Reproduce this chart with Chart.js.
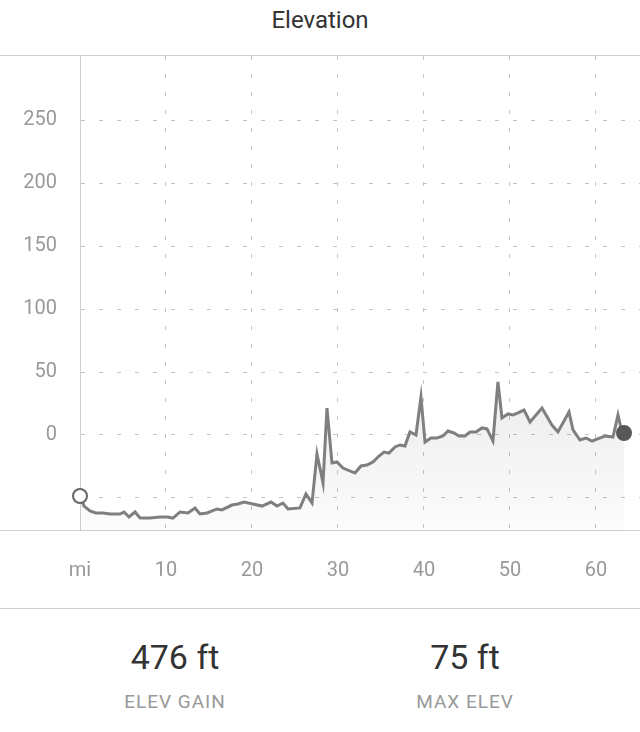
<!DOCTYPE html>
<html><head><meta charset="utf-8">
<script src="https://cdn.jsdelivr.net/npm/chart.js@4.4.0/dist/chart.umd.min.js"></script>
<style>
html,body{margin:0;padding:0;background:#fff;width:640px;height:732px;overflow:hidden;font-family:Roboto,"Noto Sans",sans-serif;}
.abs{position:absolute;}
#title{left:0;width:640px;top:0;height:40px;line-height:40px;text-align:center;font-size:24px;color:#333;}
.hline{left:0;width:640px;height:1px;background:#cfcfcf;z-index:2;}
#wrap{left:0;top:56px;width:640px;height:552px;}
.val{font-size:34px;color:#333;text-align:center;width:290px;height:40px;line-height:40px;top:637px;}
.lab{font-size:19px;color:#999;text-align:center;width:290px;letter-spacing:1px;height:24px;line-height:24px;top:690px;}
</style></head><body>
<div id="title" class="abs">Elevation</div>
<div class="abs hline" style="top:55px"></div>
<div id="wrap" class="abs"><canvas id="c"></canvas></div>
<div class="abs hline" style="top:530px"></div>
<div class="abs hline" style="top:608px"></div>
<div class="abs val" style="left:30px">476 ft</div>
<div class="abs lab" style="left:30px">ELEV GAIN</div>
<div class="abs val" style="left:320px">75 ft</div>
<div class="abs lab" style="left:320px">MAX ELEV</div>
<script>
const distanceMi = [0.0,0.47,1.16,1.86,2.67,3.49,4.65,5.12,5.70,6.40,6.98,8.14,9.30,10.12,10.81,11.63,12.56,13.37,13.95,14.77,15.93,16.51,17.67,18.37,19.07,20.12,21.16,22.21,22.91,23.60,24.19,25.58,26.28,26.98,27.56,28.26,28.72,29.30,29.88,30.58,31.98,32.67,33.37,34.07,34.77,35.35,35.93,36.63,37.21,37.79,38.37,39.07,39.65,40.12,40.81,41.51,42.21,42.79,43.49,44.07,44.77,45.35,46.05,46.74,47.33,48.02,48.60,49.07,49.77,50.35,50.93,51.63,52.33,53.72,54.88,55.58,56.86,57.33,58.14,58.84,59.53,60.12,61.05,61.98,62.56,63.02,63.26];
const elevationFt = [-48.4,-56.4,-60.3,-61.9,-61.9,-62.7,-62.7,-61.1,-65.1,-61.1,-65.9,-65.9,-65.1,-65.1,-65.9,-61.1,-61.9,-57.9,-62.7,-61.9,-58.7,-59.5,-55.6,-54.8,-53.2,-54.8,-56.4,-53.2,-56.4,-54.0,-58.7,-57.9,-46.8,-54.0,-15.1,-38.1,21.4,-22.2,-21.4,-26.2,-30.2,-24.6,-23.8,-21.4,-16.7,-13.5,-14.3,-9.5,-7.9,-8.7,2.4,0,30.2,-5.6,-2.4,-2.4,-0.8,3.2,1.6,-0.8,-0.8,2.4,2.4,5.6,4.8,-4.8,42.1,13.5,16.7,15.9,17.5,19.8,10.3,21.4,7.9,2.4,18.3,4.0,-4.0,-2.4,-4.8,-3.2,-0.8,-1.6,15.9,2.4,1.6];
const yTicks = [-50,0,50,100,150,200,250];
const xTicks = [0,10,20,30,40,50,60];
const xUnitLabel = 'mi';

const n = elevationFt.length;
const points = distanceMi.map((d,i)=>({x:d,y:elevationFt[i]}));

new Chart(document.getElementById('c'), {
  type:'line',
  data:{datasets:[{
    data:points,
    borderColor:'#7f7f7f',
    borderWidth:3,
    tension:0,
    fill:'start',
    clip:false,
    backgroundColor:(ctx)=>{
      const ca = ctx.chart.chartArea;
      if(!ca) return 'rgba(0,0,0,0.05)';
      const g = ctx.chart.ctx.createLinearGradient(0, ca.top+320, 0, ca.bottom);
      g.addColorStop(0,'rgba(0,0,0,0.08)');
      g.addColorStop(1,'rgba(0,0,0,0.01)');
      return g;
    },
    pointRadius:(c)=> (c.dataIndex===0||c.dataIndex===n-1)?7:0,
    pointBackgroundColor:(c)=> c.dataIndex===0?'#fff':'#585858',
    pointBorderColor:(c)=> c.dataIndex===0?'#666':'#585858',
    pointBorderWidth:2,
    pointHoverRadius:0
  }]},
  options:{
    animation:false,responsive:true,maintainAspectRatio:false,
    layout:{padding:0,autoPadding:false},
    plugins:{legend:{display:false},tooltip:{enabled:false},title:{display:false}},
    scales:{
      x:{type:'linear',min:0,max:65.12,
        afterBuildTicks:(s)=>{s.ticks=xTicks.map(v=>({value:v}));},
        afterFit:(s)=>{s.height=78;s.paddingLeft=0;s.paddingRight=0;},
        ticks:{padding:29,color:'#999',font:{family:'Roboto',size:20},maxRotation:0,
          callback:(v)=> v===0?xUnitLabel:String(v)},
        grid:{color:(c)=> (c.tick&&c.tick.value===0)?'rgba(0,0,0,0)':'#c4c4c4',drawTicks:false,lineWidth:1},
        border:{display:false,dash:[4,14]}
      },
      y:{type:'linear',min:-75.4,max:300.8,
        afterBuildTicks:(s)=>{s.ticks=yTicks.map(v=>({value:v}));},
        afterFit:(s)=>{s.width=80;s.paddingTop=0;s.paddingBottom=0;},
        ticks:{padding:23,color:'#999',font:{family:'Roboto',size:20},
          callback:(v)=> v===-50?'':String(v)},
        grid:{color:'#c4c4c4',drawTicks:false,lineWidth:1},
        border:{display:true,color:'#d0d0d0',width:1,dash:[4,14]}
      }
    }
  }
});
</script>
</body></html>
